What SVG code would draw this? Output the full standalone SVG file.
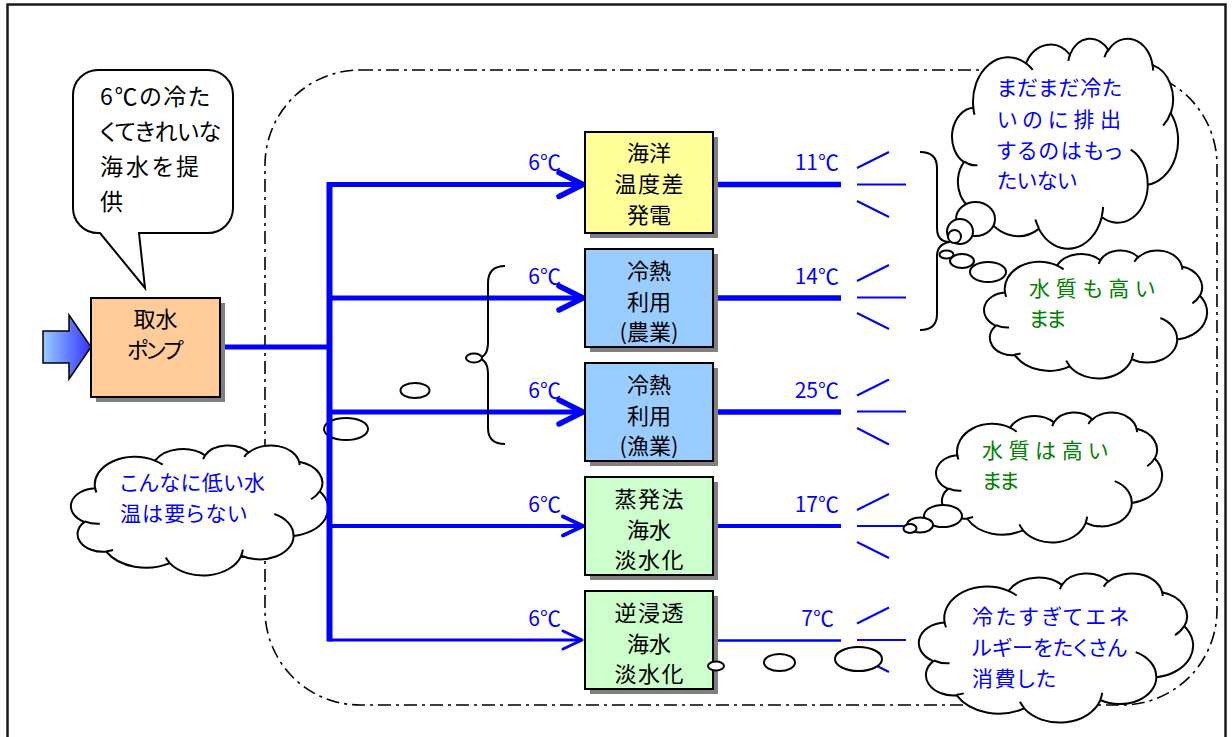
<svg xmlns="http://www.w3.org/2000/svg" width="1232" height="737" viewBox="0 0 1232 737">
<defs>
<style>
.frame{fill:none;stroke:#1a1a1a;stroke-width:2.5}
.dash{fill:none;stroke:#000;stroke-width:1.6;stroke-dasharray:13 5 3 5}
.box{stroke:#000;stroke-width:2}
.shadow{fill:#808080}
.pipe{fill:none;stroke:#0000FF}
.head{fill:none;stroke:#0000FF;stroke-linecap:round;stroke-linejoin:round}
.spray{stroke:#0000FF;stroke-width:2}
.cloud{fill:#fff;stroke:#000;stroke-width:2;vector-effect:non-scaling-stroke}
.crease{fill:none;stroke:#000;stroke-width:2;vector-effect:non-scaling-stroke}
.bub{fill:#fff;stroke:#000;stroke-width:2}
.brace{fill:none;stroke:#000;stroke-width:2}
text{font-family:"Noto Sans CJK JP","Noto Sans",sans-serif}
.bt{font-size:22px;fill:#000;text-anchor:middle}
.tl{font-size:21px;fill:#0000FF;text-anchor:end}
.ct{font-size:21px;font-feature-settings:"palt"}
.st{font-size:23px;fill:#000;font-feature-settings:"palt"}
.blue{fill:#0000FF}
.green{fill:#008000}
</style>
<linearGradient id="ag" x1="0" y1="0" x2="1" y2="0">
<stop offset="0" stop-color="#99CCFF"/>
<stop offset="1" stop-color="#3333FF"/>
</linearGradient>
<g id="cloudShape">
<path class="cloud" d="M9.03,33.26 A15.63,21.27 0 0 1 32.42,12.04 A12.35,16.82 0 0 1 51.99,7.95 A10.10,13.76 0 0 1 69.06,5.75 A11.24,15.27 0 0 1 88.70,12.92 A12.35,16.84 0 0 1 96.81,35.80 A15.68,21.34 0 0 1 86.58,69.92 A13.39,18.21 0 0 1 66.10,85.22 A15.63,21.33 0 0 1 38.15,90.90 A17.87,24.41 0 0 1 13.43,82.11 A10.09,13.70 0 0 1 4.89,59.14 A10.06,13.76 0 0 1 9.03,33.26 Z"/>
<path class="crease" d="M10.86,60.60 A10.06,13.76 0 0 1 5.00,58.75 M16.04,80.78 A10.09,13.70 0 0 1 13.47,81.67 M38.14,90.49 A15.63,21.33 0 0 1 36.60,86.46 M66.73,80.44 A15.63,21.33 0 0 1 66.11,84.86 M79.00,53.13 A13.39,18.21 0 0 1 86.53,69.65 M96.75,35.54 A12.35,16.84 0 0 1 93.40,41.74 M88.71,12.56 A11.24,15.27 0 0 1 88.89,15.49 M67.31,9.15 A11.24,15.27 0 0 1 69.03,5.41 M51.25,10.93 A10.10,13.76 0 0 1 52.08,7.71 M32.41,12.02 A15.63,21.27 0 0 1 35.42,15.14 M9.55,36.55 A15.63,21.27 0 0 1 9.03,33.26"/>
</g>
</defs>

<rect class="frame" x="7.5" y="4.5" width="1218" height="760"/>
<rect id="system-boundary" class="dash" x="265" y="70" width="952" height="635" rx="95" ry="95"/>

<g id="cloud-low-temp">
<use href="#cloudShape" transform="translate(72,445) scale(2.56,1.30)"/>
<ellipse class="bub" cx="346" cy="429" rx="22" ry="11"/>
<ellipse class="bub" cx="415" cy="390.5" rx="14.5" ry="7.5"/>
<text class="ct blue" x="120" y="490" textLength="145" lengthAdjust="spacing">こんなに低い水</text>
<text class="ct blue" x="120" y="521" textLength="127" lengthAdjust="spacing">温は要らない</text>
</g>

<g id="connectors">
<line class="pipe" x1="220" y1="347" x2="332" y2="347" stroke-width="5"/>
<line class="pipe" x1="329.5" y1="182" x2="329.5" y2="641.5" stroke-width="6"/>
<line class="pipe" x1="329" y1="184.5" x2="578" y2="184.5" stroke-width="5"/>
<line class="pipe" x1="329" y1="298" x2="578" y2="298" stroke-width="5"/>
<line class="pipe" x1="329" y1="412" x2="578" y2="412" stroke-width="5"/>
<line class="pipe" x1="329" y1="526" x2="579" y2="526" stroke-width="4"/>
<line class="pipe" x1="329" y1="640" x2="580" y2="640" stroke-width="3"/>
<path class="head" d="M559,172.5 L583,184.5 L559,196.5" stroke-width="5.5"/>
<path class="head" d="M559,286 L583,298 L559,310" stroke-width="5.5"/>
<path class="head" d="M559,400 L583,412 L559,424" stroke-width="5.5"/>
<path class="head" d="M563,516.5 L583,526 L563,535.5" stroke-width="4"/>
<path class="head" d="M563,631 L582,640 L563,649" stroke-width="3"/>
<line class="pipe" x1="713" y1="184.5" x2="841" y2="184.5" stroke-width="5.5"/>
<line class="pipe" x1="713" y1="298" x2="841" y2="298" stroke-width="5.5"/>
<line class="pipe" x1="713" y1="412" x2="841" y2="412" stroke-width="5.5"/>
<line class="pipe" x1="713" y1="526" x2="841" y2="526" stroke-width="4"/>
<line class="pipe" x1="713" y1="640.5" x2="841" y2="640.5" stroke-width="2.5"/>
<g id="spray">
<line class="spray" x1="857" y1="168" x2="889" y2="152"/>
<line class="spray" x1="857" y1="184.5" x2="906" y2="184.5"/>
<line class="spray" x1="857" y1="201" x2="889" y2="217"/>
<line class="spray" x1="857" y1="281" x2="889" y2="265"/>
<line class="spray" x1="857" y1="297.5" x2="906" y2="297.5"/>
<line class="spray" x1="857" y1="313" x2="889" y2="329"/>
<line class="spray" x1="857" y1="395.5" x2="889" y2="379.5"/>
<line class="spray" x1="857" y1="411.5" x2="906" y2="411.5"/>
<line class="spray" x1="857" y1="428" x2="889" y2="444.5"/>
<line class="spray" x1="857" y1="510" x2="889" y2="494"/>
<line class="spray" x1="857" y1="526" x2="906" y2="526"/>
<line class="spray" x1="857" y1="542" x2="889" y2="558"/>
<line class="spray" x1="857" y1="623.5" x2="889" y2="607.5"/>
<line class="spray" x1="857" y1="640" x2="906" y2="640"/>
<line class="spray" x1="857" y1="656" x2="889" y2="672"/>
</g>
</g>

<g id="intake-arrow">
<polygon points="43,331 69,331 69,315 91,347 69,379 69,363 43,363" fill="url(#ag)" stroke="#000" stroke-width="1.5"/>
</g>

<g id="pump">
<rect class="shadow" x="96" y="303" width="129" height="99"/>
<rect class="box" x="91" y="298" width="129" height="99" fill="#FFCC99"/>
<text class="bt" x="155.5" y="327" font-size="23">取水</text>
<text class="bt" x="155.5" y="358" textLength="57" lengthAdjust="spacing">ポンプ</text>
</g>

<g id="speech-bubble">
<path class="bub" d="M98,70 H208 A25,25 0 0 1 233,95 V208 A25,25 0 0 1 208,233 H139 L145,288 L100,233 H98 A25,25 0 0 1 73,208 V95 A25,25 0 0 1 98,70 Z"/>
<text class="st" x="100" y="105" textLength="110" lengthAdjust="spacing">6℃の冷た</text>
<text class="st" x="100" y="140" textLength="121" lengthAdjust="spacing">くてきれいな</text>
<text class="st" x="100" y="175" textLength="99" lengthAdjust="spacing">海水を提</text>
<text class="st" x="100" y="210">供</text>
</g>

<g id="box-otec">
<rect class="shadow" x="590" y="137" width="128" height="101"/>
<rect class="box" x="585" y="132" width="128" height="101" fill="#FFFF99"/>
<text class="bt" x="649" y="161">海洋</text>
<text class="bt" x="649" y="192" textLength="69" lengthAdjust="spacing">温度差</text>
<text class="bt" x="649" y="223">発電</text>
</g>
<g id="box-agri">
<rect class="shadow" x="590" y="254" width="128" height="98"/>
<rect class="box" x="585" y="249" width="128" height="98" fill="#99CCFF"/>
<text class="bt" x="649" y="279">冷熱</text>
<text class="bt" x="649" y="310">利用</text>
<text class="bt" x="649" y="340">(農業)</text>
</g>
<g id="box-fish">
<rect class="shadow" x="590" y="368" width="128" height="98"/>
<rect class="box" x="585" y="363" width="128" height="98" fill="#99CCFF"/>
<text class="bt" x="649" y="393">冷熱</text>
<text class="bt" x="649" y="424">利用</text>
<text class="bt" x="649" y="454">(漁業)</text>
</g>
<g id="box-evap">
<rect class="shadow" x="590" y="482" width="128" height="98"/>
<rect class="box" x="585" y="477" width="128" height="98" fill="#CCFFCC"/>
<text class="bt" x="649" y="507" textLength="69" lengthAdjust="spacing">蒸発法</text>
<text class="bt" x="649" y="538">海水</text>
<text class="bt" x="649" y="568" textLength="69" lengthAdjust="spacing">淡水化</text>
</g>
<g id="box-ro">
<rect class="shadow" x="590" y="596" width="128" height="98"/>
<rect class="box" x="585" y="591" width="128" height="98" fill="#CCFFCC"/>
<text class="bt" x="649" y="621" textLength="69" lengthAdjust="spacing">逆浸透</text>
<text class="bt" x="649" y="652">海水</text>
<text class="bt" x="649" y="682" textLength="69" lengthAdjust="spacing">淡水化</text>
</g>

<g id="temp-labels">
<text class="tl" x="561" y="170">6℃</text>
<text class="tl" x="561" y="284">6℃</text>
<text class="tl" x="561" y="398">6℃</text>
<text class="tl" x="561" y="512">6℃</text>
<text class="tl" x="561" y="626">6℃</text>
<text class="tl" x="839" y="170">11℃</text>
<text class="tl" x="839" y="284">14℃</text>
<text class="tl" x="839" y="398">25℃</text>
<text class="tl" x="839" y="512">17℃</text>
<text class="tl" x="834" y="626">7℃</text>
</g>

<g id="brace-left">
<path class="brace" d="M505,266 Q488,266 488,283 V342 Q488,357 478,358 Q488,360 488,374 V428 Q488,444 505,444"/>
<ellipse class="bub" cx="474" cy="358" rx="8" ry="4.5"/>
</g>

<g id="brace-right">
<path class="brace" d="M920,152 Q937,152 937,168 V228 Q937,242 950,242 Q937,244 937,256 V314 Q937,330 920,330"/>
</g>

<g id="cloud-wasteful">
<use href="#cloudShape" transform="translate(953,38) scale(2.25,2.10)"/>
<ellipse class="bub" cx="975.5" cy="219" rx="19.5" ry="17"/>
<ellipse class="bub" cx="960" cy="231.5" rx="13" ry="12.5"/>
<ellipse class="bub" cx="954.5" cy="236.5" rx="6.5" ry="6.5"/>
<text class="ct blue" x="997" y="95" textLength="125" lengthAdjust="spacing">まだまだ冷た</text>
<text class="ct blue" x="997" y="127" textLength="124" lengthAdjust="spacing">いのに排出</text>
<text class="ct blue" x="997" y="158" textLength="125" lengthAdjust="spacing">するのはもっ</text>
<text class="ct blue" x="997" y="188" textLength="80" lengthAdjust="spacing">たいない</text>
</g>

<g id="cloud-quality1">
<use href="#cloudShape" transform="translate(985,250) scale(2.22,1.28)"/>
<ellipse class="bub" cx="988" cy="272" rx="18" ry="10"/>
<ellipse class="bub" cx="962" cy="261" rx="12" ry="7"/>
<ellipse class="bub" cx="946.5" cy="254.5" rx="7" ry="4"/>
<text class="ct green" x="1029" y="296" textLength="126" lengthAdjust="spacing">水質も高い</text>
<text class="ct green" x="1029" y="326" textLength="37" lengthAdjust="spacing">まま</text>
</g>

<g id="cloud-quality2">
<use href="#cloudShape" transform="translate(937,412) scale(2.25,1.30)"/>
<ellipse class="bub" cx="943" cy="516" rx="19" ry="11"/>
<ellipse class="bub" cx="920" cy="525" rx="13" ry="7.5"/>
<ellipse class="bub" cx="910" cy="528.5" rx="6.5" ry="4.5"/>
<text class="ct green" x="982" y="458" textLength="126" lengthAdjust="spacing">水質は高い</text>
<text class="ct green" x="982" y="488" textLength="37" lengthAdjust="spacing">まま</text>
</g>

<g id="cloud-energy">
<use href="#cloudShape" transform="translate(920,573) scale(2.73,1.49)"/>
<ellipse class="bub" cx="858.5" cy="659" rx="23.5" ry="12"/>
<ellipse class="bub" cx="779.5" cy="662.5" rx="15.5" ry="8.5"/>
<ellipse class="bub" cx="716" cy="666" rx="8" ry="4.5"/>
<text class="ct blue" x="972" y="624" textLength="157" lengthAdjust="spacing">冷たすぎてエネ</text>
<text class="ct blue" x="972" y="655" textLength="155" lengthAdjust="spacing">ルギーをたくさん</text>
<text class="ct blue" x="972" y="686" textLength="84" lengthAdjust="spacing">消費した</text>
</g>
</svg>
